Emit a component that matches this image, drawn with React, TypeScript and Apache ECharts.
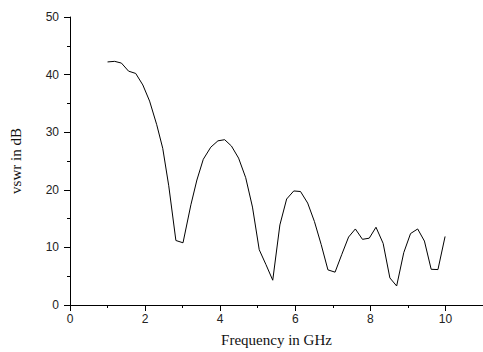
import React, { useEffect, useRef } from "react";
import * as echarts from "echarts";

// Frequency sweep (GHz) and measured VSWR (dB)
const frequencyGHz = [
  1.0, 1.19, 1.37, 1.56, 1.75, 1.94, 2.12, 2.31, 2.47, 2.63,
  2.82, 3.01, 3.22, 3.38, 3.55, 3.75, 3.94, 4.12, 4.3, 4.49,
  4.68, 4.86, 5.04, 5.22, 5.4, 5.59, 5.77, 5.96, 6.14, 6.33,
  6.51, 6.69, 6.87, 7.06, 7.24, 7.42, 7.6, 7.79, 7.97, 8.15,
  8.34, 8.52, 8.7, 8.89, 9.07, 9.26, 9.44, 9.62, 9.8, 9.99,
];
const vswrDb = [
  42.2, 42.3, 42.0, 40.6, 40.2, 38.2, 35.4, 31.3, 27.2, 20.7,
  11.2, 10.8, 17.4, 21.7, 25.3, 27.4, 28.5, 28.7, 27.6, 25.5,
  22.1, 17.0, 9.6, 7.0, 4.3, 13.9, 18.4, 19.8, 19.7, 17.7,
  14.5, 10.5, 6.1, 5.7, 8.8, 11.8, 13.2, 11.4, 11.6, 13.5,
  10.7, 4.7, 3.3, 9.1, 12.4, 13.2, 11.1, 6.2, 6.15, 11.9,
];

const xMin = 0;
const xMax = 11;
const yMin = 0;
const yMax = 50;

const serif = "'Liberation Serif', 'DejaVu Serif', serif";
const sans = "'Liberation Sans', Arial, sans-serif";

export default function App() {
  const ref = useRef<HTMLDivElement>(null);

  useEffect(() => {
    if (!ref.current) return;
    const chart = echarts.init(ref.current, null, { renderer: "svg" });
    const points = frequencyGHz.map((f, i) => [f, vswrDb[i]]);

    chart.setOption({
      animation: false,
      backgroundColor: "#ffffff",
      grid: { left: 67, top: 17, width: 418, height: 295, containLabel: false },
      xAxis: [
        {
          type: "value",
          min: xMin,
          max: xMax,
          interval: 2,
          name: "Frequency in GHz",
          nameLocation: "middle",
          nameGap: 27,
          nameTextStyle: { fontFamily: serif, fontSize: 15, color: "#111" },
          axisLine: { lineStyle: { color: "#000", width: 1 } },
          axisTick: { length: 6, lineStyle: { color: "#000" } },
          axisLabel: {
            fontFamily: sans,
            fontSize: 12,
            color: "#222",
            margin: 8,
            showMaxLabel: false,
          },
          splitLine: { show: false },
        },
        {
          // short intermediate ticks at odd frequencies
          type: "value",
          min: xMin,
          max: xMax,
          interval: 1,
          position: "bottom",
          axisLine: { show: false },
          axisTick: { length: 3, lineStyle: { color: "#000" } },
          axisLabel: { show: false },
          splitLine: { show: false },
        },
      ],
      yAxis: {
        type: "value",
        min: yMin,
        max: yMax,
        interval: 10,
        name: "vswr in dB",
        nameLocation: "middle",
        nameGap: 47,
        nameTextStyle: { fontFamily: serif, fontSize: 15, color: "#111" },
        axisLine: { show: true, lineStyle: { color: "#000", width: 1 } },
        axisTick: { show: true, length: 6, lineStyle: { color: "#000" } },
        minorTick: { show: true, splitNumber: 2, length: 3, lineStyle: { color: "#000" } },
        axisLabel: { fontFamily: sans, fontSize: 12, color: "#222", margin: 11 },
        splitLine: { show: false },
      },
      series: [
        {
          type: "line",
          xAxisIndex: 0,
          data: points,
          showSymbol: false,
          symbol: "none",
          lineStyle: { color: "#000", width: 1 },
        },
      ],
    });

    return () => chart.dispose();
  }, []);

  return (
    <div
      ref={ref}
      style={{ position: "fixed", left: 0, top: 0, width: 483, height: 352 }}
    />
  );
}
